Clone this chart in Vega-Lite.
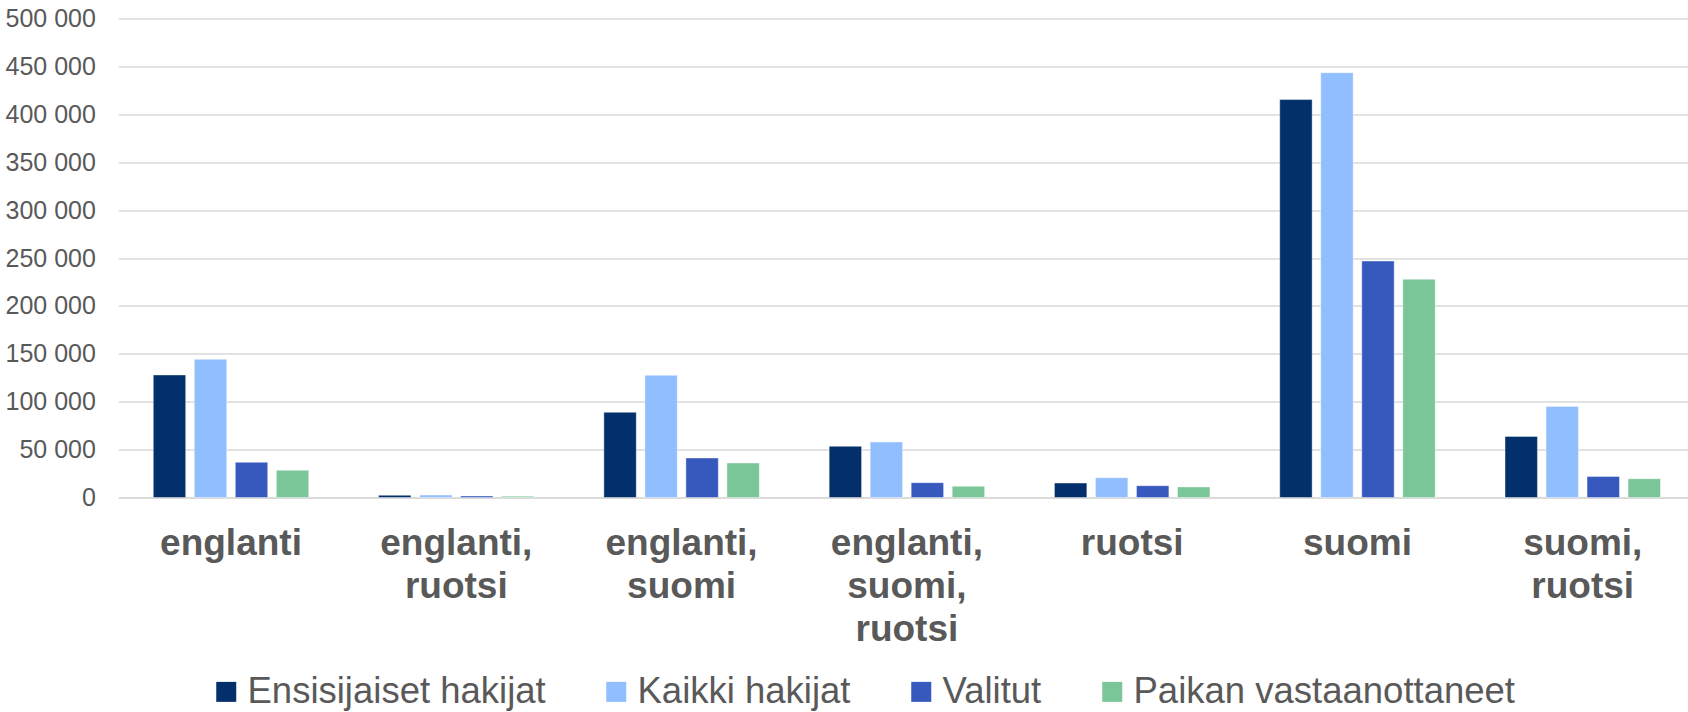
{
  "$schema": "https://vega.github.io/schema/vega-lite/v6.json",
  "width": 1569.6,
  "height": 479,
  "autosize": {"type": "none"},
  "padding": {"left": 118.4, "top": 18.5, "right": 0, "bottom": 214.5},
  "background": "#ffffff",
  "config": {
    "view": {"stroke": null},
    "font": "Liberation Sans",
    "locale": {"number": {"decimal": ",", "thousands": " ", "grouping": [3], "currency": ["", " €"]}}
  },
  "data": {
    "values": [
      {"kieli": "englanti", "sarja": "Ensisijaiset hakijat", "arvo": 127900},
      {"kieli": "englanti", "sarja": "Kaikki hakijat", "arvo": 144300},
      {"kieli": "englanti", "sarja": "Valitut", "arvo": 36700},
      {"kieli": "englanti", "sarja": "Paikan vastaanottaneet", "arvo": 28400},
      {"kieli": "englanti, ruotsi", "sarja": "Ensisijaiset hakijat", "arvo": 2300},
      {"kieli": "englanti, ruotsi", "sarja": "Kaikki hakijat", "arvo": 2500},
      {"kieli": "englanti, ruotsi", "sarja": "Valitut", "arvo": 1600},
      {"kieli": "englanti, ruotsi", "sarja": "Paikan vastaanottaneet", "arvo": 1300},
      {"kieli": "englanti, suomi", "sarja": "Ensisijaiset hakijat", "arvo": 88900},
      {"kieli": "englanti, suomi", "sarja": "Kaikki hakijat", "arvo": 127500},
      {"kieli": "englanti, suomi", "sarja": "Valitut", "arvo": 41200},
      {"kieli": "englanti, suomi", "sarja": "Paikan vastaanottaneet", "arvo": 36000},
      {"kieli": "englanti, suomi, ruotsi", "sarja": "Ensisijaiset hakijat", "arvo": 53400},
      {"kieli": "englanti, suomi, ruotsi", "sarja": "Kaikki hakijat", "arvo": 57900},
      {"kieli": "englanti, suomi, ruotsi", "sarja": "Valitut", "arvo": 15500},
      {"kieli": "englanti, suomi, ruotsi", "sarja": "Paikan vastaanottaneet", "arvo": 11700},
      {"kieli": "ruotsi", "sarja": "Ensisijaiset hakijat", "arvo": 15100},
      {"kieli": "ruotsi", "sarja": "Kaikki hakijat", "arvo": 20700},
      {"kieli": "ruotsi", "sarja": "Valitut", "arvo": 12300},
      {"kieli": "ruotsi", "sarja": "Paikan vastaanottaneet", "arvo": 11000},
      {"kieli": "suomi", "sarja": "Ensisijaiset hakijat", "arvo": 415400},
      {"kieli": "suomi", "sarja": "Kaikki hakijat", "arvo": 443400},
      {"kieli": "suomi", "sarja": "Valitut", "arvo": 246800},
      {"kieli": "suomi", "sarja": "Paikan vastaanottaneet", "arvo": 227800},
      {"kieli": "suomi, ruotsi", "sarja": "Ensisijaiset hakijat", "arvo": 63800},
      {"kieli": "suomi, ruotsi", "sarja": "Kaikki hakijat", "arvo": 95100},
      {"kieli": "suomi, ruotsi", "sarja": "Valitut", "arvo": 22000},
      {"kieli": "suomi, ruotsi", "sarja": "Paikan vastaanottaneet", "arvo": 19600}
    ]
  },
  "mark": {"type": "bar", "stroke": "#ffffff", "strokeWidth": 0.8, "strokeOpacity": 0.5},
  "encoding": {
    "x": {
      "field": "kieli",
      "type": "nominal",
      "sort": null,
      "scale": {"paddingInner": 0.31, "paddingOuter": 0.1385, "align": 0.559},
      "axis": {
        "title": null,
        "labelAngle": 0,
        "labelExpr": "split(datum.label, ' ')",
        "labelFont": "Liberation Sans",
        "labelFontSize": 37,
        "labelFontWeight": "bold",
        "labelColor": "#595959",
        "labelLineHeight": 43,
        "labelBaseline": "top",
        "labelPadding": 28,
        "ticks": false,
        "domain": true,
        "domainColor": "#D9D9D9",
        "domainWidth": 1.6,
        "grid": false
      }
    },
    "xOffset": {
      "field": "sarja",
      "type": "nominal",
      "sort": ["Ensisijaiset hakijat", "Kaikki hakijat", "Valitut", "Paikan vastaanottaneet"],
      "scale": {"paddingInner": 0.21, "paddingOuter": 0}
    },
    "y": {
      "field": "arvo",
      "type": "quantitative",
      "scale": {"domain": [0, 500000], "nice": false},
      "axis": {
        "title": null,
        "values": [0, 50000, 100000, 150000, 200000, 250000, 300000, 350000, 400000, 450000, 500000],
        "format": ",d",
        "labelFont": "Liberation Sans",
        "labelFontSize": 25,
        "labelColor": "#595959",
        "labelPadding": 23,
        "ticks": false,
        "domain": false,
        "grid": true,
        "gridColor": "#D9D9D9",
        "gridWidth": 1.6
      }
    },
    "color": {
      "field": "sarja",
      "type": "nominal",
      "scale": {
        "domain": ["Ensisijaiset hakijat", "Kaikki hakijat", "Valitut", "Paikan vastaanottaneet"],
        "range": ["#03306B", "#90BEFE", "#3759BD", "#7BC699"]
      },
      "legend": {
        "title": null,
        "orient": "none",
        "direction": "horizontal",
        "legendX": 89.6,
        "legendY": 655,
        "padding": 0,
        "symbolType": "square",
        "symbolSize": 400,
        "symbolStrokeWidth": 0,
        "labelFont": "Liberation Sans",
        "labelFontSize": 36.5,
        "labelColor": "#595959",
        "labelOffset": 3,
        "labelLimit": 0,
        "columnPadding": 52
      }
    }
  }
}
